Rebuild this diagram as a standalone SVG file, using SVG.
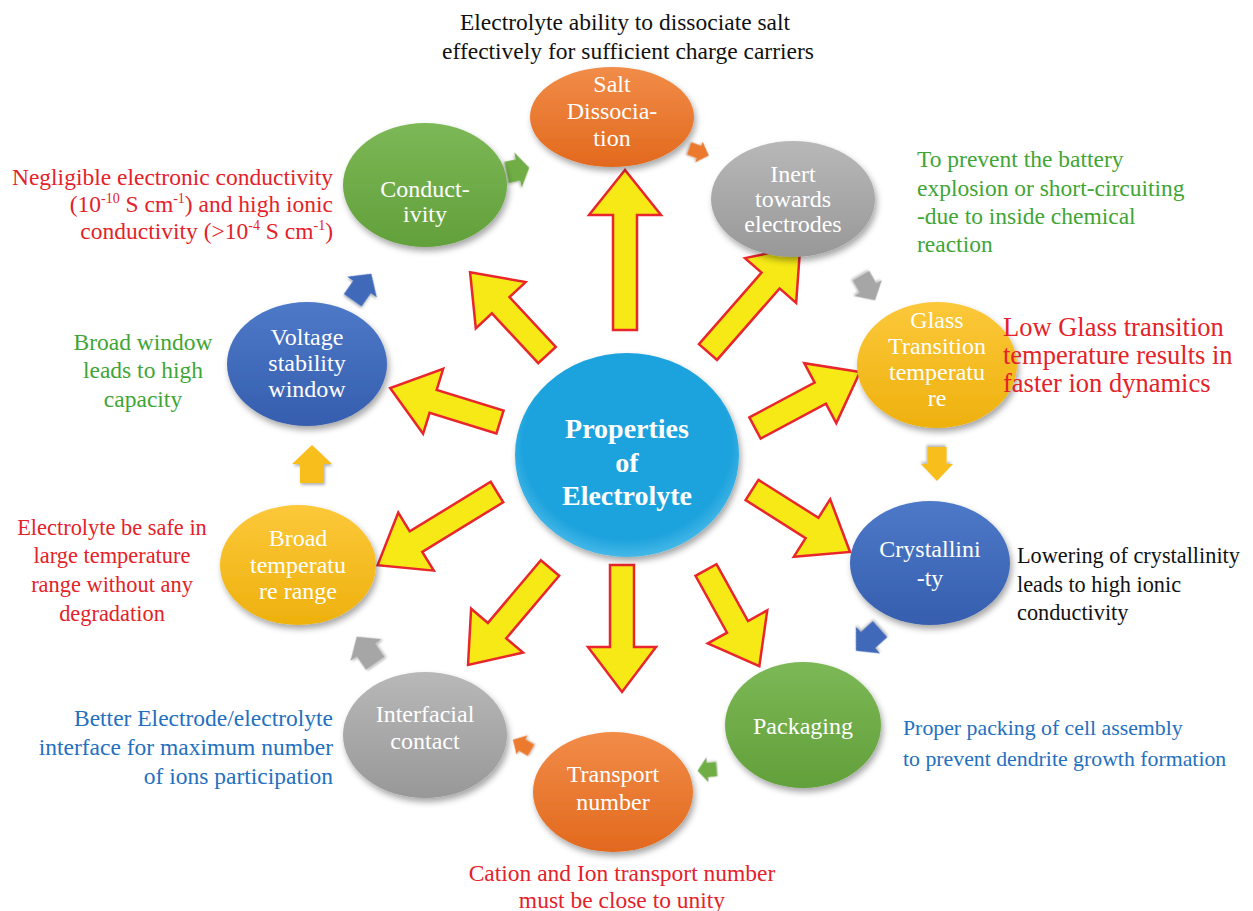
<svg xmlns="http://www.w3.org/2000/svg" width="1253" height="911" viewBox="0 0 1253 911" font-family="'Liberation Serif', 'Times New Roman', Times, serif">
<defs>
<linearGradient id="gOr" x1="0" y1="0" x2="0" y2="1"><stop offset="0" stop-color="#F18C48"/><stop offset="1" stop-color="#E2691E"/></linearGradient>
<linearGradient id="gGy" x1="0" y1="0" x2="0" y2="1"><stop offset="0" stop-color="#B8B8B8"/><stop offset="1" stop-color="#989898"/></linearGradient>
<linearGradient id="gGd" x1="0" y1="0" x2="0" y2="1"><stop offset="0" stop-color="#FCC83A"/><stop offset="1" stop-color="#EEB10E"/></linearGradient>
<linearGradient id="gBl" x1="0" y1="0" x2="0" y2="1"><stop offset="0" stop-color="#4D79C8"/><stop offset="1" stop-color="#365EAE"/></linearGradient>
<linearGradient id="gGn" x1="0" y1="0" x2="0" y2="1"><stop offset="0" stop-color="#7CB856"/><stop offset="1" stop-color="#62A03B"/></linearGradient>
<radialGradient id="gCy" cx="0.5" cy="0.45" r="0.55"><stop offset="0.85" stop-color="#1FA3DD"/><stop offset="1" stop-color="#45B8E8"/></radialGradient>
<filter id="sh" x="-20%" y="-20%" width="140%" height="150%"><feDropShadow dx="2" dy="4" stdDeviation="3" flood-color="#000" flood-opacity="0.35"/></filter>
<filter id="sh2" x="-30%" y="-30%" width="160%" height="160%"><feDropShadow dx="1" dy="2" stdDeviation="1.5" flood-color="#000" flood-opacity="0.3"/></filter>
</defs>
<style>
text{font-family:"Liberation Serif","Times New Roman",Times,serif}
.nt{font-size:24px;fill:#fff;text-anchor:middle}
.ct{font-size:28px;font-weight:bold;fill:#fff;text-anchor:middle}
.an{font-size:23.5px}
.sup{font-size:14px}
.red{fill:#E42229}.grn{fill:#3FA535}.blu{fill:#2470C0}.blk{fill:#111}
.ya{fill:#F6E916;stroke:#E8262B;stroke-width:2.5;stroke-linejoin:miter}
.sa{filter:url(#sh2)}
.node{filter:url(#sh)}
</style>

<g id="connectors">
  <polygon class="ya" transform="translate(625,330) rotate(-90)" points="0,-12 115,-12 115,-36 160,0 115,36 115,12 0,12"/>
  <polygon class="ya" transform="translate(708,352) rotate(-48.8)" points="0,-12 95,-12 95,-34 140,0 95,34 95,12 0,12"/>
  <polygon class="ya" transform="translate(755,428) rotate(-28.1)" points="0,-12 74,-12 74,-34 119,0 74,34 74,12 0,12"/>
  <polygon class="ya" transform="translate(752,490) rotate(32.3)" points="0,-12 71,-12 71,-34 116,0 71,34 71,12 0,12"/>
  <polygon class="ya" transform="translate(706,570) rotate(61)" points="0,-12 65,-12 65,-34 110,0 65,34 65,12 0,12"/>
  <polygon class="ya" transform="translate(622,565) rotate(90)" points="0,-12 82,-12 82,-34 127,0 82,34 82,12 0,12"/>
  <polygon class="ya" transform="translate(550,568) rotate(130.2)" points="0,-12 82,-12 82,-34 127,0 82,34 82,12 0,12"/>
  <polygon class="ya" transform="translate(497,492) rotate(148.5)" points="0,-12 95,-12 95,-34 140,0 95,34 95,12 0,12"/>
  <polygon class="ya" transform="translate(500,422) rotate(197.2)" points="0,-12 70,-12 70,-34 115,0 70,34 70,12 0,12"/>
  <polygon class="ya" transform="translate(547,355) rotate(227.1)" points="0,-12 68,-12 68,-34 113,0 68,34 68,12 0,12"/>

  <polygon class="sa" fill="#6FAE44" transform="translate(518,170) rotate(78) scale(0.9,0.6)" points="0,-19 20,0 12,0 12,19 -12,19 -12,0 -20,0"/>
  <polygon class="sa" fill="#EC7A2F" transform="translate(699,152) rotate(110) scale(0.55,0.55)" points="0,-19 20,0 12,0 12,19 -12,19 -12,0 -20,0"/>
  <polygon class="sa" fill="#A6A6A6" transform="translate(868,288) rotate(150) scale(0.8,0.75)" points="0,-19 20,0 12,0 12,19 -12,19 -12,0 -20,0"/>
  <polygon class="sa" fill="#F8BE1E" transform="translate(937,464) rotate(180) scale(0.8,0.9)" points="0,-19 20,0 12,0 12,19 -12,19 -12,0 -20,0"/>
  <polygon class="sa" fill="#4069B9" transform="translate(868,640) rotate(228) scale(0.9,0.85)" points="0,-19 20,0 12,0 12,19 -12,19 -12,0 -20,0"/>
  <polygon class="sa" fill="#6FAE44" transform="translate(707,770) rotate(265) scale(0.6,0.5)" points="0,-19 20,0 12,0 12,19 -12,19 -12,0 -20,0"/>
  <polygon class="sa" fill="#EC7A2F" transform="translate(522,745) rotate(300) scale(0.55,0.55)" points="0,-19 20,0 12,0 12,19 -12,19 -12,0 -20,0"/>
  <polygon class="sa" fill="#A6A6A6" transform="translate(366,650) rotate(-35) scale(0.95,0.85)" points="0,-19 20,0 12,0 12,19 -12,19 -12,0 -20,0"/>
  <polygon class="sa" fill="#F8BE1E" transform="translate(312,464) rotate(0)" points="0,-19 20,0 12,0 12,19 -12,19 -12,0 -20,0"/>
  <polygon class="sa" fill="#4069B9" transform="translate(362,287) rotate(35) scale(0.9,0.85)" points="0,-19 20,0 12,0 12,19 -12,19 -12,0 -20,0"/>
</g>

<g id="center">
  <ellipse class="node" cx="627" cy="455" rx="112" ry="102" fill="url(#gCy)"/>
  <text class="ct" x="627" y="438">Properties</text>
  <text class="ct" x="627" y="472">of</text>
  <text class="ct" x="627" y="505">Electrolyte</text>
</g>
<g id="salt">
  <ellipse class="node" cx="612" cy="117" rx="82" ry="50" fill="url(#gOr)"/>
  <text class="nt" x="612" y="92">Salt</text>
  <text class="nt" x="612" y="119">Dissocia-</text>
  <text class="nt" x="612" y="146">tion</text>
</g>
<g id="inert">
  <ellipse class="node" cx="793" cy="199" rx="82" ry="58" fill="url(#gGy)"/>
  <text class="nt" x="793" y="182">Inert</text>
  <text class="nt" x="793" y="207">towards</text>
  <text class="nt" x="793" y="232">electrodes</text>
</g>
<g id="glass">
  <ellipse class="node" cx="937" cy="365" rx="80" ry="63" fill="url(#gGd)"/>
  <text class="nt" x="937" y="328">Glass</text>
  <text class="nt" x="937" y="354">Transition</text>
  <text class="nt" x="937" y="380">temperatu</text>
  <text class="nt" x="937" y="406">re</text>
</g>
<g id="crystallinity">
  <ellipse class="node" cx="930" cy="563" rx="80" ry="62" fill="url(#gBl)"/>
  <text class="nt" x="930" y="557">Crystallini</text>
  <text class="nt" x="930" y="586">-ty</text>
</g>
<g id="packaging">
  <ellipse class="node" cx="803" cy="725" rx="78" ry="63" fill="url(#gGn)"/>
  <text class="nt" x="803" y="734">Packaging</text>
</g>
<g id="transport">
  <ellipse class="node" cx="613" cy="792" rx="80" ry="60" fill="url(#gOr)"/>
  <text class="nt" x="613" y="782">Transport</text>
  <text class="nt" x="613" y="810">number</text>
</g>
<g id="interfacial">
  <ellipse class="node" cx="425" cy="735" rx="82" ry="63" fill="url(#gGy)"/>
  <text class="nt" x="425" y="722">Interfacial</text>
  <text class="nt" x="425" y="749">contact</text>
</g>
<g id="broad">
  <ellipse class="node" cx="298" cy="565" rx="78" ry="60" fill="url(#gGd)"/>
  <text class="nt" x="298" y="546">Broad</text>
  <text class="nt" x="298" y="573">temperatu</text>
  <text class="nt" x="298" y="599">re range</text>
</g>
<g id="voltage">
  <ellipse class="node" cx="307" cy="364" rx="80" ry="62" fill="url(#gBl)"/>
  <text class="nt" x="307" y="345">Voltage</text>
  <text class="nt" x="307" y="371">stability</text>
  <text class="nt" x="307" y="397">window</text>
</g>
<g id="conductivity">
  <ellipse class="node" cx="425" cy="185" rx="82" ry="62" fill="url(#gGn)"/>
  <text class="nt" x="425" y="197">Conduct-</text>
  <text class="nt" x="425" y="222">ivity</text>
</g>

<g id="annotations">
  <text class="an blk" text-anchor="middle" x="625" y="30" font-size="24.8">Electrolyte ability to dissociate salt</text>
  <text class="an blk" text-anchor="middle" x="628" y="59" font-size="24.8">effectively for sufficient charge carriers</text>

  <text class="an red" text-anchor="end" x="333" y="185">Negligible electronic conductivity</text>
  <text class="an red" text-anchor="end" x="333" y="212">(10<tspan class="sup" dy="-9">-10</tspan><tspan dy="9"> S cm</tspan><tspan class="sup" dy="-9">-1</tspan><tspan dy="9">) and high ionic</tspan></text>
  <text class="an red" text-anchor="end" x="333" y="239">conductivity (&gt;10<tspan class="sup" dy="-9">-4</tspan><tspan dy="9"> S cm</tspan><tspan class="sup" dy="-9">-1</tspan><tspan dy="9">)</tspan></text>

  <text class="an grn" x="917" y="167">To prevent the battery</text>
  <text class="an grn" x="917" y="196">explosion or short-circuiting</text>
  <text class="an grn" x="917" y="224">-due to inside chemical</text>
  <text class="an grn" x="917" y="252">reaction</text>

  <g font-size="26.5">
  <text class="red" x="1003" y="336" font-size="26.5">Low Glass transition</text>
  <text class="red" x="1003" y="364" font-size="26.5">temperature results in</text>
  <text class="red" x="1003" y="392" font-size="26.5">faster ion dynamics</text>
  </g>

  <text class="an grn" text-anchor="middle" x="143" y="350">Broad window</text>
  <text class="an grn" text-anchor="middle" x="143" y="378">leads to high</text>
  <text class="an grn" text-anchor="middle" x="143" y="407">capacity</text>

  <text class="blk" x="1017" y="563" font-size="22.3">Lowering of crystallinity</text>
  <text class="blk" x="1017" y="592" font-size="22.3">leads to high ionic</text>
  <text class="blk" x="1017" y="620" font-size="22.3">conductivity</text>

  <text class="red" text-anchor="middle" x="112" y="535" font-size="22.4">Electrolyte be safe in</text>
  <text class="red" text-anchor="middle" x="112" y="563" font-size="22.4">large temperature</text>
  <text class="red" text-anchor="middle" x="112" y="592" font-size="22.4">range without any</text>
  <text class="red" text-anchor="middle" x="112" y="621" font-size="22.4">degradation</text>

  <text class="blu" x="903" y="735" font-size="21.8">Proper packing of cell assembly</text>
  <text class="blu" x="903" y="766" font-size="21.8">to prevent dendrite growth formation</text>

  <text class="an blu" text-anchor="end" x="333" y="726">Better Electrode/electrolyte</text>
  <text class="an blu" text-anchor="end" x="333" y="755">interface for maximum number</text>
  <text class="an blu" text-anchor="end" x="333" y="784">of ions participation</text>

  <text class="an red" text-anchor="middle" x="622" y="881">Cation and Ion transport number</text>
  <text class="an red" text-anchor="middle" x="622" y="908">must be close to unity</text>
</g>
</svg>
